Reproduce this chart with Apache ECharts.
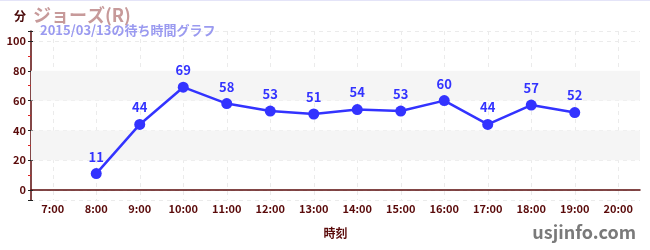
<!DOCTYPE html>
<html><head><meta charset="utf-8">
<script src="https://cdn.jsdelivr.net/npm/echarts@6/dist/echarts.min.js"></script>
<style>
html,body{margin:0;padding:0;background:#fff;}
#c{width:650px;height:249px;border-top:1px solid #e4e4f8;}
</style></head>
<body><div id="c"></div>
<script>
const categories = ['7:00','8:00','9:00','10:00','11:00','12:00','13:00','14:00','15:00','16:00','17:00','18:00','19:00','20:00'];
const waitTimes = [null, 11, 44, 69, 58, 53, 51, 54, 53, 60, 44, 57, 52, null];
const shadedBands = [[20, 40], [60, 80]];
const yMin = -6.7, yMax = 106.7;

const chart = echarts.init(document.getElementById('c'), null, {renderer: 'canvas'});
const axisColor = '#5a0a0a';
const fontFam = '"Noto Sans CJK JP", "Noto Sans", sans-serif';
chart.setOption({
  animation: false,
  textStyle: {fontFamily: fontFam},
  title: [
    {text: '分', left: 14, top: 9, padding: 0, textStyle: {fontSize: 12, fontWeight: 'bold', color: '#4a0a0a', fontFamily: fontFam}},
    {text: 'ジョーズ(R)', left: 33, top: 5, padding: 0, textStyle: {fontSize: 18, fontWeight: 'bold', color: '#c79a9a', fontFamily: fontFam}},
    {text: '2015/03/13の待ち時間グラフ', left: 40, top: 23, padding: 0, textStyle: {fontSize: 13, fontWeight: 'bold', color: '#9a9af0', fontFamily: fontFam}},
    {text: 'usjinfo.com', right: 14, top: 222, padding: 0, textStyle: {fontSize: 18, fontWeight: 'bold', color: '#7a7a7a', fontFamily: fontFam}}
  ],
  grid: {left: 31, right: 10, top: 30, bottom: 50, containLabel: false},
  xAxis: {
    type: 'category',
    data: categories,
    boundaryGap: true,
    name: '時刻',
    nameLocation: 'middle',
    nameGap: 27,
    nameTextStyle: {fontSize: 12, fontWeight: 'bold', color: axisColor},
    axisLine: {lineStyle: {color: axisColor, width: 1.5}},
    axisTick: {alignWithLabel: true, length: 3, lineStyle: {color: '#888'}},
    axisLabel: {fontSize: 11, fontWeight: 'bold', color: axisColor, margin: 3, interval: 0},
    splitLine: {show: true, alignWithLabel: true, interval: 0, lineStyle: {color: '#ebebeb', type: [4, 4]}}
  },
  yAxis: [{
    type: 'value',
    min: yMin, max: yMax,
    axisLine: {show: true, lineStyle: {color: axisColor, width: 1.5}},
    axisTick: {show: true, length: 3, lineStyle: {color: '#222'}},
    minorTick: {show: true, splitNumber: 2, length: 3, lineStyle: {color: '#dd2222'}},
    axisLabel: {fontSize: 11, fontWeight: 'bold', color: axisColor, margin: 5,
      formatter: v => (Math.abs(v % 20) < 1e-6 ? String(v) : '')},
    splitLine: {show: true, lineStyle: {color: '#ebebeb', type: [4, 4]}}
  }, {
    type: 'value',
    position: 'left',
    min: yMin, max: yMax,
    axisLine: {show: false},
    axisTick: {show: true, inside: true, length: 2, lineStyle: {color: '#222'}},
    axisLabel: {show: false},
    splitLine: {show: false}
  }],
  series: [{
    type: 'line',
    data: waitTimes,
    symbol: 'circle',
    symbolSize: 11,
    connectNulls: false,
    itemStyle: {color: '#3333ff'},
    lineStyle: {color: '#3333ff', width: 2.5},
    label: {show: true, position: 'top', distance: 5, fontSize: 13, fontWeight: 'bold', color: '#3333ff'},
    markArea: {
      silent: true,
      itemStyle: {color: '#f5f5f5'},
      data: shadedBands.map(b => [{yAxis: b[0]}, {yAxis: b[1]}])
    },
    z: 3
  }]
});
</script></body></html>
